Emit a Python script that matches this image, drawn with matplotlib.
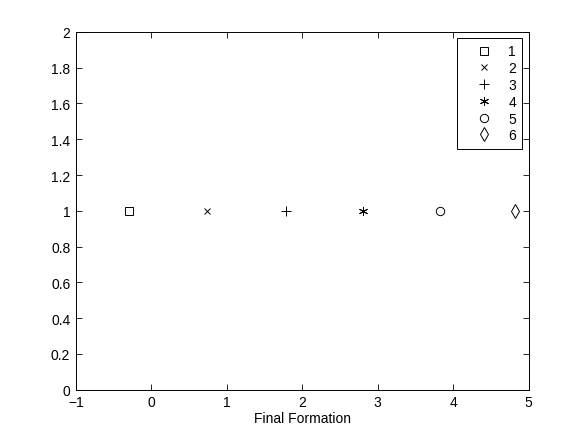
import numpy as np
import matplotlib.pyplot as plt

plt.rcParams['font.family'] = ['Liberation Sans', 'DejaVu Sans']

# one point per formation member, all at y = 1
x_pos = [-0.3, 0.74, 1.79, 2.81, 3.82, 4.82]
y_pos = [1, 1, 1, 1, 1, 1]
labels = ['1', '2', '3', '4', '5', '6']
markers = ['s', 'x', '+', (6, 2, 0), 'o', 'd']
sizes = [5.5, 5, 7, 6.5, 6, 7]

fig = plt.figure(figsize=(5.84, 4.39), dpi=100)
ax = fig.add_axes([0.13, 0.11, 0.775, 0.815])

for x, y, lab, m, s in zip(x_pos, y_pos, labels, markers, sizes):
    ax.plot(x, y, linestyle='none', marker=m, markersize=s, color='black',
            markerfacecolor='none', markeredgewidth=0.7, label=lab)

ax.set_xlim(-1, 5)
ax.set_ylim(0, 2)
ax.set_xticks(np.arange(-1, 6, 1))
ax.set_yticks(np.arange(0, 2.01, 0.2))
ax.set_xticklabels(['\u22121', '0', '1', '2', '3', '4', '5'])
ax.set_yticklabels(['0', '0.2', '0.4', '0.6', '0.8', '1', '1.2', '1.4', '1.6', '1.8', '2'])
ax.tick_params(direction='in', top=True, right=True, length=4, width=0.6,
               labelsize=10, pad=4)
for sp in ax.spines.values():
    sp.set_linewidth(0.7)
ax.set_xlabel('Final Formation', fontsize=10, labelpad=1)

leg = ax.legend(loc='upper right', fancybox=False, edgecolor='black',
                framealpha=1, borderaxespad=0.45, fontsize=10, labelspacing=0.2,
                handlelength=3.0, handletextpad=0.25, borderpad=0.45,
                markerfirst=True)
leg.get_frame().set_linewidth(0.7)

fig.savefig('out.png', dpi=100)
